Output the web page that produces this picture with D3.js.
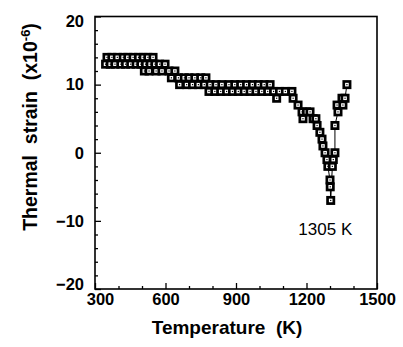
<!DOCTYPE html>
<html><head><meta charset="utf-8">
<script src="https://cdn.jsdelivr.net/npm/d3@7"></script>
<style>body{margin:0;background:#fff} svg{display:block} text{white-space:pre}</style>
</head><body>
<svg id="c" width="403" height="347"></svg>
<script>
// Heating branch (temperature K, thermal strain x1e-6)
const heatT = [345,351,365,372,385,395,410,420,430,440,452,462,475,485,495,505,510,515,525,530,535,547,555,560,575,585,598,615,625,640,655,660,680,690,700,715,725,740,750,765,772,785,790,810,815,835,840,860,870,885,895,910,920,935,945,960,970,985,995,1010,1020,1035,1045,1060,1073,1085,1110,1138,1143,1164,1181,1185,1200,1215,1228,1240,1245,1257,1266,1270,1279,1287,1291,1300,1301,1303];
const heatStrain = [13,14,13,14,13,14,13,14,13,14,13,14,13,14,13,14,12,13,14,12,13,14,13,12,13,12,13,12,11,12,11,10,11,10,11,10,11,10,11,10,11,9,10,9,10,9,10,9,10,9,10,9,10,9,10,9,10,9,10,9,10,9,10,9,8,9,9,9,8,7,6,5,6,6,5,5,4,3,2,1,0,-1,-2,-4,-5,-7];
// Cooling branch
const coolT = [1303,1310,1314,1321,1321,1334,1330,1351,1355,1364,1372];
const coolStrain = [-7,-2,-1,0,4,6,7,8,7,8,10];

const xTicks = [300,600,900,1200,1500];
const xMinorTicks = [400,500,700,800,1000,1100,1300,1400];
const yTicks = [20,10,0,-10,-20];
const yMinorTicks = [18,16,14,12,8,6,4,2,-2,-4,-6,-8,-12,-14,-16,-18];
const annotation = "1305 K";
const annotationAt = [1280,-12.1];

const svg = d3.select("#c");
const x = d3.scaleLinear().domain([300,1500]).range([95,377]);
const y = d3.scaleLinear().domain([-20,20]).range([289,16.5]);
const FONT = "'Liberation Sans', Arial, Helvetica, sans-serif";

// lines
const line = d3.line().x(d=>x(d[0])).y(d=>y(d[1]));
const heat = heatT.map((t,i)=>[t,heatStrain[i]]);
const cool = coolT.map((t,i)=>[t,coolStrain[i]]);
[heat,cool].forEach(data=>{
  svg.append("path").datum(data).attr("d",line)
    .attr("fill","none").attr("stroke","#000").attr("stroke-width",1);
});

// markers
const all = heat.concat(cool.slice(1));
const g = svg.append("g");
all.forEach(d=>{
  const cx = x(d[0]), cy = y(d[1]);
  g.append("rect").attr("x",cx-4.5).attr("y",cy-4.5).attr("width",9).attr("height",9).attr("fill","#000");
  g.append("rect").attr("x",cx-1.8).attr("y",cy-1.8).attr("width",3.6).attr("height",3.6).attr("fill","#fff");
  g.append("rect").attr("x",cx-0.6).attr("y",cy-0.6).attr("width",1.2).attr("height",1.2).attr("fill","#000");
});

// axes
const xAxis = svg.append("g").attr("transform",`translate(0,${y(-20)})`)
  .call(d3.axisBottom(x).tickValues(xTicks).tickSize(-6).tickPadding(4).tickFormat(d3.format("d")));
svg.append("g").attr("transform",`translate(0,${y(-20)})`)
  .call(d3.axisBottom(x).tickValues(xMinorTicks).tickSize(-3).tickFormat(""));
const yAxis = svg.append("g").attr("transform",`translate(${x(300)},0)`)
  .call(d3.axisLeft(y).tickValues(yTicks).tickSize(-6).tickPadding(11).tickFormat(d3.format("d")));
svg.append("g").attr("transform",`translate(${x(300)},0)`)
  .call(d3.axisLeft(y).tickValues(yMinorTicks).tickSize(-3).tickFormat(""));
svg.selectAll(".domain").remove();
svg.selectAll(".tick line").attr("stroke","#000").attr("stroke-width",1.3);
svg.selectAll(".tick text").attr("fill","#000").attr("font-family",FONT)
  .attr("font-weight","bold").attr("font-size",16.5);
yAxis.selectAll(".tick text").filter(d=>d===20).attr("dy","0.62em");
yAxis.selectAll(".tick text").filter(d=>d===-20).attr("dy","0.05em");
xAxis.selectAll(".tick text").filter(d=>d===300).attr("dx","5");

// frame
svg.append("rect").attr("x",x(300)).attr("y",y(20)).attr("width",x(1500)-x(300)).attr("height",y(-20)-y(20))
  .attr("fill","none").attr("stroke","#000").attr("stroke-width",1.6);

// axis titles
svg.append("text").attr("x",(x(300)+x(1500))/2 - 9).attr("y",334)
  .attr("text-anchor","middle").attr("font-family",FONT).attr("font-weight","bold").attr("font-size",19)
  .text("Temperature  (K)");
const yt = svg.append("text").attr("transform","translate(37,127) rotate(-90)")
  .attr("text-anchor","middle").attr("font-family",FONT).attr("font-weight","bold").attr("font-size",19.5);
yt.append("tspan").text("Thermal  strain  (x10");
yt.append("tspan").attr("dy",-7).attr("font-size",13).text("-6");
yt.append("tspan").attr("dy",7).text(")");

// annotation
svg.append("text").attr("x",x(annotationAt[0])).attr("y",y(annotationAt[1]))
  .attr("text-anchor","middle").attr("font-family",FONT).attr("font-size",17).text(annotation);
</script>
</body></html>
